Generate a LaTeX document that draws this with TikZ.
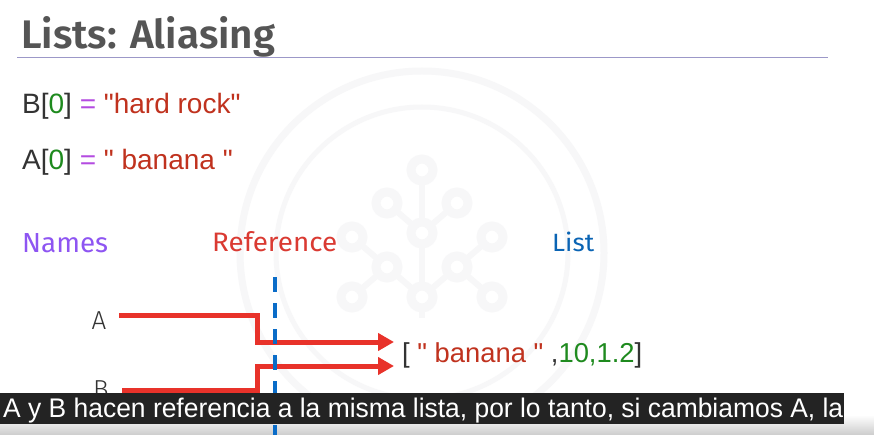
\documentclass[tikz,border=0pt]{standalone}
\usepackage{fontspec}
\usepackage{graphicx}
\setmainfont{Liberation Sans}[Ligatures=TeXOff]
\newfontfamily\plex{Fira Sans}[BoldFont=* SemiBold]
\newfontfamily\plexlight{Fira Sans Light}
\usetikzlibrary{arrows.meta}
\definecolor{titlegray}{HTML}{555555}
\definecolor{rulecol}{HTML}{9C98C8}
\definecolor{codegreen}{HTML}{1E8A1E}
\definecolor{codepurple}{HTML}{B44BE1}
\definecolor{codered}{HTML}{C0321E}
\definecolor{codedark}{HTML}{333333}
\definecolor{namescol}{HTML}{8E55F2}
\definecolor{refcol}{HTML}{DA3A32}
\definecolor{listcol}{HTML}{0A64B4}
\definecolor{arrowred}{HTML}{E8322A}
\definecolor{dashblue}{HTML}{0A6CC8}
\definecolor{barcol}{HTML}{232323}
\definecolor{marklight}{HTML}{F7F7F8}
\tikzset{
  codeline/.style={anchor=base west, inner sep=0pt, font=\fontsize{28}{30}\selectfont, text=codedark},
  header/.style={anchor=base west, inner sep=0pt},
  letter/.style={anchor=base, inner sep=0pt, font=\plexlight\fontsize{26}{28}\selectfont, text=codedark},
  refarrow/.style={draw=arrowred, line width=5pt, -{Triangle[length=16pt,width=17pt]}},
  refline/.style={draw=dashblue, line width=4pt, dash pattern=on 15pt off 11pt},
  logoline/.style={draw=marklight, line width=6pt},
  logodot/.style={draw=marklight, line width=9pt, fill=white},
}
\begin{document}
\begin{tikzpicture}[x=1pt, y=-1pt]
\useasboundingbox (0,0) rectangle (874,435);
\fill[white] (0,0) rectangle (874,435);

% faint logo in the background
\draw[marklight, line width=7pt] (422,253) circle[radius=182];
\draw[marklight, line width=5pt] (422,253) circle[radius=146];
\draw[logoline] (422,170) -- (422,318);
\draw[logoline] (387,203) -- (422,233) -- (457,203);
\draw[logoline] (352,237) -- (387,267) -- (422,297);
\draw[logoline] (492,237) -- (457,267) -- (422,297);
\draw[logoline] (387,267) -- (352,297);
\draw[logoline] (457,267) -- (492,297);
\foreach \p in {(422,170),(387,203),(457,203),(422,233),(352,237),(492,237),(387,267),(457,267),(352,297),(422,297),(492,297)}
  \draw[logodot] \p circle[radius=11];

% title and rule
\node[header] (title) at (21,49) {\resizebox{254pt}{32pt}{\plex\bfseries\color{titlegray}Lists: Aliasing}};
\draw[rulecol, line width=1.2pt] (17,57.5) -- (828,57.5);

% code lines
\node[codeline] (code1) at (22,114) {B[\textcolor{codegreen}{0}] \textcolor{codepurple}{=} \textcolor{codered}{"hard rock"}};
\node[codeline] (code2) at (22,170) {A[\textcolor{codegreen}{0}] \textcolor{codepurple}{=} \textcolor{codered}{" banana "}};

% column headers
\node[header] (names) at (22,252) {\resizebox{86pt}{19pt}{\plex\fontsize{26}{28}\selectfont\color{namescol}Names}};
\node[header] (ref) at (212,252) {\resizebox{125pt}{20pt}{\plex\fontsize{26}{28}\selectfont\color{refcol}Reference}};
\node[header] (listhd) at (552,252) {\resizebox{42pt}{19.5pt}{\plex\fontsize{26}{28}\selectfont\color{listcol}List}};

% variable names
\node[letter] (A) at (99,329) {A};
\node[letter] (B) at (101,398) {B};

% the list object
\node[header] (lst) at (402,362) {\resizebox{240pt}{!}{\fontsize{24}{26}\selectfont\color{codedark}[ \textcolor{codered}{" banana "} ,\textcolor{codegreen}{10,1.2}]}};

% arrow end points
\coordinate (aStart) at (119,315);
\coordinate (bStart) at (122,390);
\coordinate (aTip) at (lst.west |- 0,342);
\coordinate (bTip) at (lst.west |- 0,366);

\draw[refarrow] (aStart) -- (257,315) -- (257,342) -- ([xshift=-8pt]aTip);
\draw[refarrow] (bStart) -- (257,390) -- (257,366) -- ([xshift=-8pt]bTip);

% reference boundary
\coordinate (refTop) at (275,277);
\coordinate (refBot) at (275,440);
\draw[refline] (refTop) -- (refBot);

% caption bar
\shade[top color=white, bottom color=black!20] (0,415) rectangle (874,435);
\draw[refline] (275,425) -- (275,440);
\fill[barcol] (0,393) rectangle (844,423.5);
\node[anchor=base west, inner sep=0pt, text=white] (caption) at (3,417)
  {\resizebox{840pt}{19.5pt}{A y B hacen referencia a la misma lista, por lo tanto, si cambiamos A, la}};
\end{tikzpicture}
\end{document}
